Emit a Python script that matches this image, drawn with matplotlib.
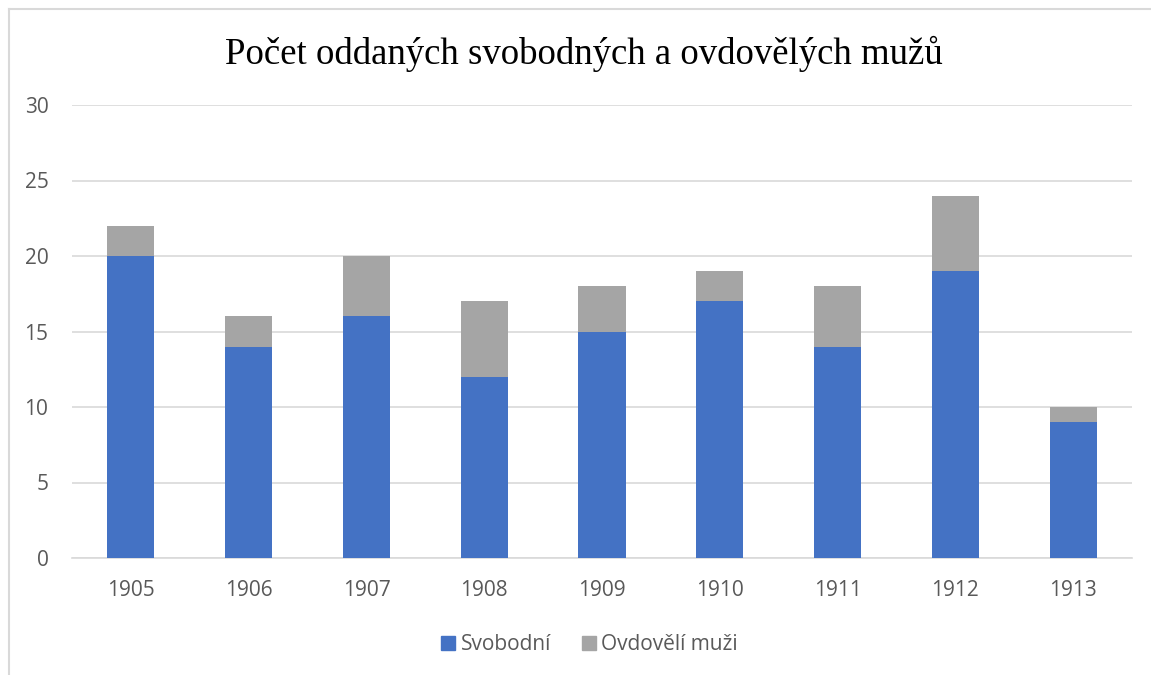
import numpy as np
import matplotlib
matplotlib.use('Agg')
import matplotlib.pyplot as plt
from matplotlib.lines import Line2D

years = ["1905", "1906", "1907", "1908", "1909", "1910", "1911", "1912", "1913"]
svobodni = [20, 14, 16, 12, 15, 17, 14, 19, 9]
ovdoveli = [2, 2, 4, 5, 3, 2, 4, 5, 1]

BLUE = "#4472C4"
GRAY = "#A5A5A5"
TEXT = "#595959"

W, H = 1151, 675
fig = plt.figure(figsize=(W / 100, H / 100), dpi=100)

# plot area in pixels: x 72..1132, y 105..558
ax = fig.add_axes([72 / W, 1 - 558 / H, (1132 - 72) / W, (558 - 105) / H])

x = np.arange(len(years))
ax.bar(x, svobodni, width=0.4, color=BLUE, zorder=3)
ax.bar(x, ovdoveli, width=0.4, bottom=svobodni, color=GRAY, zorder=3)

ax.set_xlim(-0.5, len(years) - 0.5)
ax.set_ylim(0, 30)
ax.set_yticks(range(0, 31, 5))
ax.set_xticks(x)
ax.set_xticklabels(years)
ax.yaxis.grid(True, color="#D9D9D9", linewidth=1.2, zorder=0)
ax.set_axisbelow(True)
for s in ["top", "right", "left"]:
    ax.spines[s].set_visible(False)
ax.spines["bottom"].set_color("#D9D9D9")
ax.spines["bottom"].set_linewidth(1.2)
ax.tick_params(axis="both", length=0, labelcolor=TEXT, labelsize=15)
ax.tick_params(axis="x", pad=16)
ax.tick_params(axis="y", pad=17)
for lbl in ax.get_xticklabels() + ax.get_yticklabels():
    lbl.set_family("Open Sans")

fig.text(584 / W, 1 - 54 / H, "Počet oddaných svobodných a ovdovělých mužů",
         ha="center", va="center", fontsize=26.5, family="Liberation Serif", color="black")

handles = [Line2D([], [], marker="s", linestyle="none", markersize=10, color=BLUE),
           Line2D([], [], marker="s", linestyle="none", markersize=10, color=GRAY)]
fig.legend(handles, ["Svobodní", "Ovdovělí muži"], loc="center", bbox_to_anchor=(589 / W, 1 - 645 / H),
           ncol=2, frameon=False, handlelength=0.8, handletextpad=0.2, columnspacing=1.4,
           prop={"family": "Open Sans", "size": 15}, labelcolor=TEXT)

# chart frame (top and left edges visible)
fig.add_artist(Line2D([8.5 / W, 8.5 / W], [0, 1 - 8.5 / H], color="#D9D9D9", linewidth=1.5, transform=fig.transFigure))
fig.add_artist(Line2D([8.5 / W, 1], [1 - 8.5 / H, 1 - 8.5 / H], color="#D9D9D9", linewidth=1.5, transform=fig.transFigure))

fig.savefig("out.png", dpi=100)
